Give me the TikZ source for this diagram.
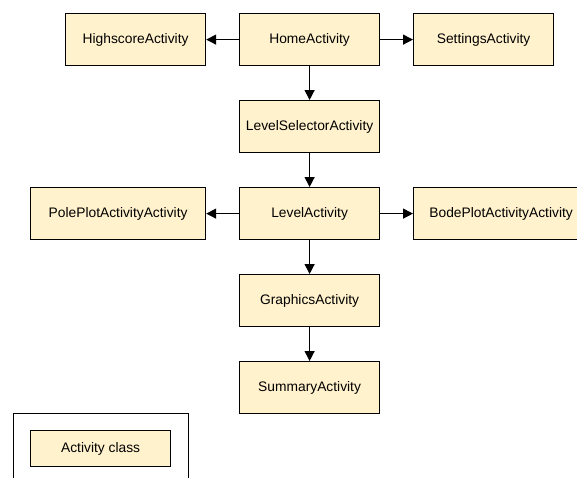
\documentclass[tikz,border=0pt]{standalone}
\usepackage{fontspec}
\setmainfont{Liberation Sans}
\usetikzlibrary{arrows.meta}
\definecolor{actfill}{HTML}{FFF2CC}
\tikzset{
  act/.style={draw=black, fill=actfill, line width=1.2pt, minimum width=140pt, minimum height=52pt, inner sep=0pt, font=\fontsize{13.8}{16}\selectfont, anchor=north west},
  wideact/.style={act, minimum width=175pt},
  conn/.style={line width=1.3pt, -{Triangle[length=10pt,width=10pt]}}
}
\begin{document}
\begin{tikzpicture}[x=1pt,y=-1pt]
\useasboundingbox (0,0) rectangle (577,477);
\clip (0,0) rectangle (577,477);
\node[act] (high) at (65,13) {HighscoreActivity};
\node[act] (home) at (239,13) {HomeActivity};
\node[act] (sett) at (413,13) {SettingsActivity};
\node[act] (lsel) at (239,100) {LevelSelectorActivity};
\node[wideact] (pole) at (30,187) {PolePlotActivityActivity};
\node[act] (level) at (239,187) {LevelActivity};
\node[wideact] (bode) at (413,187) {BodePlotActivityActivity};
\node[act] (graph) at (239,274) {GraphicsActivity};
\node[act] (summ) at (239,361) {SummaryActivity};
\draw[conn] (home) -- (high);
\draw[conn] (home) -- (sett);
\draw[conn] (home) -- (lsel);
\draw[conn] (lsel) -- (level);
\draw[conn] (level) -- (pole);
\draw[conn] (level) -- (bode);
\draw[conn] (level) -- (graph);
\draw[conn] (graph) -- (summ);
\node[draw=black, line width=1.2pt, minimum width=175pt, minimum height=80pt, anchor=north west, inner sep=0pt] (legend) at (13,413) {};
\node[act, minimum height=36pt] (legact) at (30,430) {Activity class};
\end{tikzpicture}
\end{document}
